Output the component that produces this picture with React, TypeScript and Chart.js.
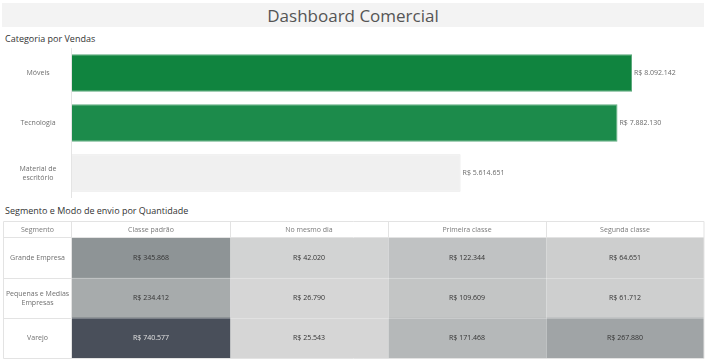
import React, { useEffect, useRef } from 'react';
import { Chart, registerables } from 'chart.js';

Chart.register(...registerables);

// ---- Data ----
const categories = ['Móveis', 'Tecnologia', 'Material de escritório'];
const categoryLabelLines = [['Móveis'], ['Tecnologia'], ['Material de', 'escritório']];
const salesValues = [8092142, 7882130, 5614651];
const salesColors = ['#10843f', '#1c8b4b', '#f0f0f0'];
const salesBorders = ['#5aa97a', '#62ae81', '#e6e6e6'];

const segments = ['Grande Empresa', 'Pequenas e Medias Empresas', 'Varejo'];
const segmentLabelLines = [['Grande Empresa'], ['Pequenas e Medias', 'Empresas'], ['Varejo']];
const shipModes = ['Classe padrão', 'No mesmo dia', 'Primeira classe', 'Segunda classe'];
const classePadrao = [345868, 234412, 740577];
const noMesmoDia = [42020, 26790, 25543];
const primeiraClasse = [122344, 109609, 171468];
const segundaClasse = [64651, 61712, 267880];
const quantityByMode = [classePadrao, noMesmoDia, primeiraClasse, segundaClasse];

const FONT = '"Open Sans", "Noto Sans", sans-serif';

function fmt(v: number): string {
  return 'R$ ' + String(v).replace(/\B(?=(\d{3})+(?!\d))/g, '.');
}

const allQ = quantityByMode.flat();
const qMin = Math.min(...allQ);
const qMax = Math.max(...allQ);
const colorStops: [number, number[]][] = [
  [0, [214, 214, 214]],
  [0.45, [142, 148, 150]],
  [1, [73, 79, 90]],
];
function heatT(v: number) {
  return (v - qMin) / (qMax - qMin);
}
function heatColor(v: number): string {
  const t = heatT(v);
  for (let i = 0; i < colorStops.length - 1; i++) {
    const [t0, c0] = colorStops[i];
    const [t1, c1] = colorStops[i + 1];
    if (t <= t1) {
      const s = (t - t0) / (t1 - t0);
      const c = c0.map((x, k) => Math.round(x + (c1[k] - x) * s));
      return `rgb(${c[0]},${c[1]},${c[2]})`;
    }
  }
  const c = colorStops[colorStops.length - 1][1];
  return `rgb(${c[0]},${c[1]},${c[2]})`;
}

export default function App() {
  const barRef = useRef<HTMLCanvasElement | null>(null);
  const heatRef = useRef<HTMLCanvasElement | null>(null);

  useEffect(() => {
    const barLabels = {
      id: 'barLabels',
      afterDatasetsDraw(chart: any) {
        const ctx = chart.ctx;
        const area = chart.chartArea;
        const yScale = chart.scales.y;
        ctx.save();
        // axis line
        ctx.strokeStyle = '#e4e4e4';
        ctx.lineWidth = 1;
        ctx.beginPath();
        ctx.moveTo(area.left - 0.5, area.top);
        ctx.lineTo(area.left - 0.5, area.bottom);
        ctx.stroke();
        ctx.font = `7px ${FONT}`;
        ctx.textBaseline = 'middle';
        // category labels
        ctx.fillStyle = '#6f6f6f';
        ctx.textAlign = 'center';
        categoryLabelLines.forEach((lines, i) => {
          const y = yScale.getPixelForValue(i);
          const lh = 9;
          lines.forEach((ln, j) => {
            ctx.fillText(ln, area.left / 2 + 2, y + (j - (lines.length - 1) / 2) * lh);
          });
        });
        // value labels
        const meta = chart.getDatasetMeta(0);
        ctx.textAlign = 'left';
        ctx.fillStyle = '#6a6a6a';
        meta.data.forEach((el: any, i: number) => {
          ctx.fillText(fmt(salesValues[i]), el.x + 2, el.y);
        });
        ctx.restore();
      },
    };

    const barChart = new Chart(barRef.current as HTMLCanvasElement, {
      type: 'bar',
      data: {
        labels: categories,
        datasets: [
          {
            data: salesValues,
            backgroundColor: salesColors,
            borderColor: salesBorders,
            borderWidth: 1,
            barPercentage: 0.75,
            categoryPercentage: 1,
          },
        ],
      },
      options: {
        indexAxis: 'y',
        animation: false,
        responsive: false,
        layout: { padding: { left: 72, right: 5, top: 3, bottom: 2 } },
        scales: {
          x: { display: false, min: 0, max: 9132000 },
          y: { display: false },
        },
        plugins: { legend: { display: false }, tooltip: { enabled: false } },
      },
      plugins: [barLabels],
    } as any);

    const heatLabels = {
      id: 'heatLabels',
      afterDatasetsDraw(chart: any) {
        const ctx = chart.ctx;
        const area = chart.chartArea;
        const xs = chart.scales.x;
        const ys = chart.scales.y;
        const left = 3;
        const top = 3;
        ctx.save();
        // subtle lines between data cells
        ctx.strokeStyle = 'rgba(255,255,255,0.28)';
        ctx.lineWidth = 1;
        for (let c = 1; c < shipModes.length; c++) {
          const x = Math.round(xs.getPixelForValue(c)) + 0.5;
          ctx.beginPath();
          ctx.moveTo(x, area.top);
          ctx.lineTo(x, area.bottom);
          ctx.stroke();
        }
        for (let r = 0; r < segments.length - 1; r++) {
          const y = Math.round((ys.getPixelForValue(r) + ys.getPixelForValue(r + 1)) / 2) + 0.5;
          ctx.beginPath();
          ctx.moveTo(area.left, y);
          ctx.lineTo(area.right, y);
          ctx.stroke();
        }
        // table borders
        ctx.strokeStyle = '#e3e3e3';
        ctx.beginPath();
        ctx.rect(left + 0.5, top + 0.5, area.right - left - 0.5, area.bottom - top);
        ctx.stroke();
        ctx.beginPath();
        ctx.moveTo(left, area.top - 0.5);
        ctx.lineTo(area.right, area.top - 0.5);
        ctx.stroke();
        ctx.beginPath();
        ctx.moveTo(area.left - 0.5, top);
        ctx.lineTo(area.left - 0.5, area.bottom);
        ctx.stroke();
        for (let c = 1; c < shipModes.length; c++) {
          const x = Math.round(xs.getPixelForValue(c)) + 0.5;
          ctx.beginPath();
          ctx.moveTo(x, top);
          ctx.lineTo(x, area.top);
          ctx.stroke();
        }
        for (let r = 0; r < segments.length - 1; r++) {
          const y = Math.round((ys.getPixelForValue(r) + ys.getPixelForValue(r + 1)) / 2) + 0.5;
          ctx.beginPath();
          ctx.moveTo(left, y);
          ctx.lineTo(area.left, y);
          ctx.stroke();
        }
        // header texts
        ctx.font = `7px ${FONT}`;
        ctx.textBaseline = 'middle';
        ctx.textAlign = 'center';
        ctx.fillStyle = '#7a7a7a';
        const hy = (top + area.top) / 2 + 0.5;
        ctx.fillText('Segmento', (left + area.left) / 2, hy);
        shipModes.forEach((m, c) => {
          ctx.fillText(m, xs.getPixelForValue(c + 0.5), hy);
        });
        // row labels
        ctx.fillStyle = '#6f6f6f';
        segmentLabelLines.forEach((lines, r) => {
          const y = ys.getPixelForValue(r);
          lines.forEach((ln, j) => {
            ctx.fillText(ln, (left + area.left) / 2, y + (j - (lines.length - 1) / 2) * 9);
          });
        });
        // cell values
        quantityByMode.forEach((vals, c) => {
          vals.forEach((v, r) => {
            ctx.fillStyle = heatT(v) > 0.7 ? '#e2e2e2' : '#333333';
            ctx.fillText(fmt(v), xs.getPixelForValue(c + 0.5), ys.getPixelForValue(r));
          });
        });
        ctx.restore();
      },
    };

    const heatChart = new Chart(heatRef.current as HTMLCanvasElement, {
      type: 'bar',
      data: {
        labels: segments,
        datasets: shipModes.map((m, c) => ({
          label: m,
          data: quantityByMode[c].map(() => 1),
          backgroundColor: quantityByMode[c].map(heatColor),
          borderWidth: 0,
          barPercentage: 1,
          categoryPercentage: 1,
        })),
      },
      options: {
        indexAxis: 'y',
        animation: false,
        responsive: false,
        layout: { padding: { left: 72, right: 5, top: 20, bottom: 5 } },
        scales: {
          x: { display: false, stacked: true, min: 0, max: shipModes.length },
          y: { display: false, stacked: true },
        },
        plugins: { legend: { display: false }, tooltip: { enabled: false } },
      },
      plugins: [heatLabels],
    } as any);

    return () => {
      barChart.destroy();
      heatChart.destroy();
    };
  }, []);

  return (
    <div
      style={{
        position: 'absolute',
        left: 0,
        top: 0,
        width: 709,
        height: 363,
        background: '#ffffff',
        fontFamily: FONT,
        overflow: 'hidden',
      }}
    >
      <div
        style={{
          position: 'absolute',
          left: 2,
          top: 3,
          width: 702,
          height: 24,
          background: '#f3f3f3',
          display: 'flex',
          alignItems: 'center',
          justifyContent: 'center',
          fontSize: 17,
          color: '#555555',
        }}
      >
        Dashboard Comercial
      </div>
      <div style={{ position: 'absolute', left: 5, top: 33, fontSize: 9, lineHeight: '12px', color: '#333333' }}>
        Categoria por Vendas
      </div>
      <canvas ref={barRef} width={709} height={155} style={{ position: 'absolute', left: 0, top: 45, width: 709, height: 155 }} />
      <div style={{ position: 'absolute', left: 5, top: 205, fontSize: 9, lineHeight: '12px', color: '#333333' }}>
        Segmento e Modo de envio por Quantidade
      </div>
      <canvas ref={heatRef} width={709} height={145} style={{ position: 'absolute', left: 0, top: 218, width: 709, height: 145 }} />
    </div>
  );
}
